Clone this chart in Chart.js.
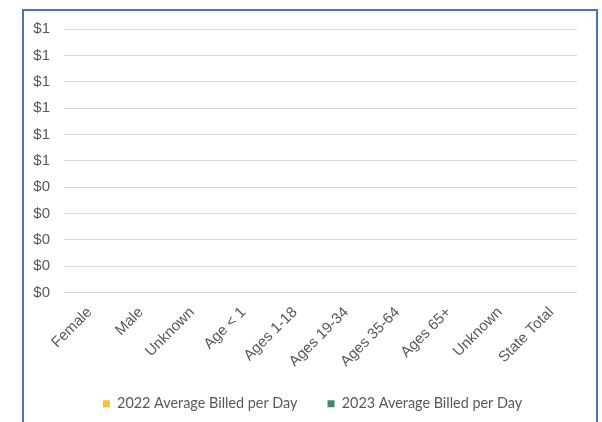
<!DOCTYPE html>
<html>
<head>
<meta charset="utf-8">
<script src="https://cdn.jsdelivr.net/npm/chart.js@4"></script>
<style>
    html, body { margin: 0; padding: 0; background: #fff; }
    #frame { position: absolute; left: 22px; top: 9px; width: 572px; height: 420px; border: 2px solid #4472C4; box-sizing: content-box; }
    #wrap { position: absolute; left: 0; top: 0; width: 602px; height: 422px; }
</style>
</head>
<body>
<div id="frame"></div>
<div id="wrap"><canvas id="billedChart" width="602" height="422"></canvas></div>
<script>
const categories = ['Female', 'Male', 'Unknown', 'Age < 1', 'Ages 1-18', 'Ages 19-34', 'Ages 35-64', 'Ages 65+', 'Unknown', 'State Total'];
const billed2022 = [0, 0, 0, 0, 0, 0, 0, 0, 0, 0];
const billed2023 = [0, 0, 0, 0, 0, 0, 0, 0, 0, 0];
const yTicks = [0, 0.1, 0.2, 0.3, 0.4, 0.5, 0.6, 0.7, 0.8, 0.9, 1];

// nudge the legend so it sits under the plot like the original
const legendShift = {
    id: 'legendShift',
    afterLayout: function(chart) {
        chart.legend.left += 24;
        chart.legend.right += 24;
    }
};

const ctx = document.getElementById('billedChart').getContext('2d');
const billedChart = new Chart(ctx, {
    type: 'bar',
    data: {
        labels: categories,
        datasets: [
            {
                label: '2022 Average Billed per Day',
                data: billed2022,
                backgroundColor: '#F4C331',
                borderWidth: 0
            },
            {
                label: '2023 Average Billed per Day',
                data: billed2023,
                backgroundColor: '#3D8A6C',
                borderWidth: 0
            }
        ]
    },
    options: {
        responsive: false,
        animation: false,
        layout: {
            padding: { left: 0, right: 25, top: 29, bottom: 1 }
        },
        scales: {
            y: {
                min: 0,
                max: 1,
                afterFit: function(scale) { scale.width = 64; },
                afterBuildTicks: function(scale) {
                    scale.ticks = yTicks.map(v => ({ value: v }));
                },
                grid: { color: '#D9D9D9', drawTicks: false },
                border: { display: false },
                ticks: {
                    padding: 14,
                    color: '#595959',
                    font: { family: 'Liberation Sans', size: 15 },
                    callback: function(value) { return '$' + Math.round(value); }
                }
            },
            x: {
                grid: { display: false, drawTicks: false },
                border: { display: false },
                afterFit: function(scale) { scale.height = 74; },
                ticks: {
                    minRotation: 45,
                    maxRotation: 45,
                    padding: 11,
                    labelOffset: 0,
                    autoSkip: false,
                    color: '#595959',
                    font: { family: 'Liberation Sans', size: 15 }
                }
            }
        },
        plugins: {
            legend: {
                position: 'bottom',
                labels: {
                    boxWidth: 7,
                    boxHeight: 7,
                    padding: 30,
                    color: '#595959',
                    font: { family: 'Lato', size: 14.4 }
                }
            },
            tooltip: { enabled: false }
        }
    },
    plugins: [legendShift]
});
</script>
</body>
</html>
